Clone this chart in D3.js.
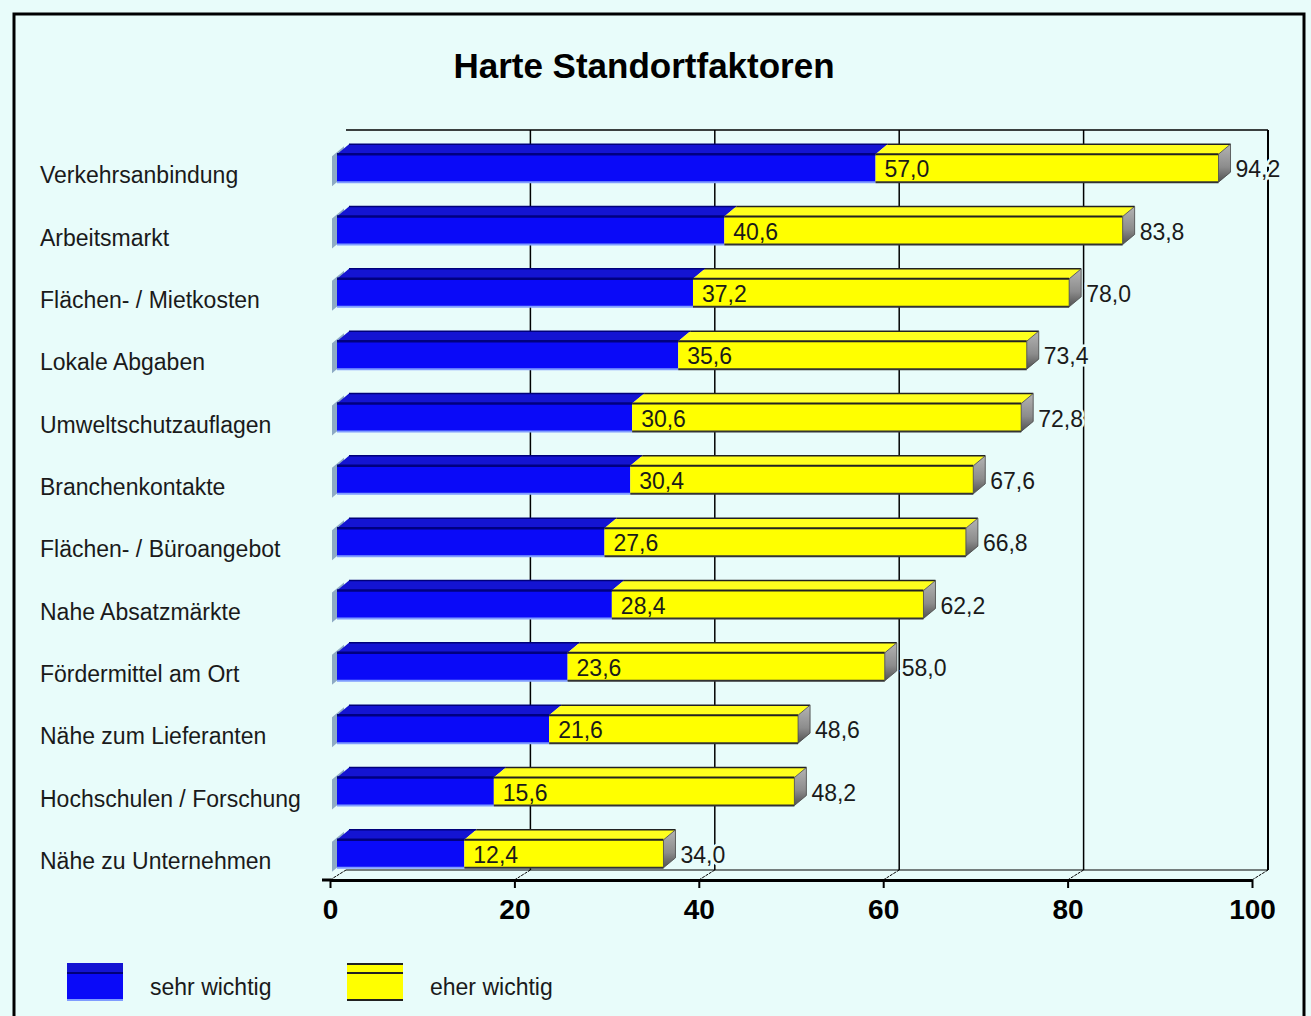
<!DOCTYPE html>
<html lang="de">
<head>
    <meta charset="UTF-8">
    <title>Harte Standortfaktoren - D3.js</title>
    <script src="https://d3js.org/d3.v7.min.js"></script>
    <style>
        body { margin: 0; background: #e8fcfa; }
        svg { display: block; font-family: "Liberation Sans", Arial, sans-serif; }
    </style>
</head>
<body>
<svg width="1311" height="1016"></svg>
<script>
    // Daten
    const categories = [
        "Verkehrsanbindung", "Arbeitsmarkt", "Flächen- / Mietkosten", "Lokale Abgaben",
        "Umweltschutzauflagen", "Branchenkontakte", "Flächen- / Büroangebot", "Nahe Absatzmärkte",
        "Fördermittel am Ort", "Nähe zum Lieferanten", "Hochschulen / Forschung", "Nähe zu Unternehmen"
    ];
    const sehrWichtig = [57.0, 40.6, 37.2, 35.6, 30.6, 30.4, 27.6, 28.4, 23.6, 21.6, 15.6, 12.4];
    const eherWichtig = [37.2, 43.2, 40.8, 37.8, 42.2, 37.2, 39.2, 33.8, 34.4, 27.0, 32.6, 21.6];
    const tickValues = [0, 20, 40, 60, 80, 100];
    const seriesNames = ["sehr wichtig", "eher wichtig"];

    const fmt = v => v.toFixed(1).replace(".", ",");
    const bg = "#e8fcfa";

    const svg = d3.select("svg");

    // Rahmen
    svg.append("rect")
        .attr("x", 14).attr("y", 14).attr("width", 1290).attr("height", 1020)
        .attr("fill", bg).attr("stroke", "#000").attr("stroke-width", 3);

    svg.append("text")
        .attr("x", 644).attr("y", 65)
        .attr("text-anchor", "middle").attr("dominant-baseline", "central")
        .style("font-size", "35px").style("font-weight", "bold")
        .text("Harte Standortfaktoren");

    // Skalen
    const axisY = 880;
    const backDx = 16, backDy = 10;
    const x = d3.scaleLinear().domain([0, 100]).range([330, 1252]);
    const barX = v => x(v) + 20;   // Balken liegen in der Tiefe etwas nach rechts versetzt
    const barStart = x(0) + 7;
    const y = d3.scaleBand().domain(categories).range([138, 886]);
    const yc = c => y(c) + y.bandwidth() / 2 - 1;

    // Rückwand und Gitter
    const back = svg.append("g").attr("stroke", "#000").attr("fill", "none");
    back.append("line")
        .attr("x1", x(0) + backDx).attr("x2", x(100) + backDx)
        .attr("y1", 130).attr("y2", 130).attr("stroke-width", 1.5);
    back.append("line")
        .attr("x1", x(0) + backDx).attr("x2", x(100) + backDx)
        .attr("y1", axisY - backDy).attr("y2", axisY - backDy).attr("stroke-width", 1);
    back.selectAll(".grid")
        .data(tickValues.slice(1))
        .enter().append("line")
        .attr("x1", d => x(d) + backDx).attr("x2", d => x(d) + backDx)
        .attr("y1", 130).attr("y2", axisY - backDy)
        .attr("stroke-width", d => d === 100 ? 2 : 1.5);
    back.selectAll(".diag")
        .data(tickValues)
        .enter().append("line")
        .attr("x1", d => x(d)).attr("x2", d => x(d) + backDx)
        .attr("y1", axisY).attr("y2", axisY - backDy)
        .attr("stroke-width", 1).attr("stroke-dasharray", "3,1");

    // Farbverlauf für Seitenflächen
    const defs = svg.append("defs");
    const grad = defs.append("linearGradient").attr("id", "side")
        .attr("x1", 0).attr("y1", 0).attr("x2", 0).attr("y2", 1);
    grad.append("stop").attr("offset", "0%").attr("stop-color", "#b4b4b4");
    grad.append("stop").attr("offset", "60%").attr("stop-color", "#8c8c8c");
    grad.append("stop").attr("offset", "100%").attr("stop-color", "#505050");

    // Balken
    const dx = 12, dy = 10, h = 28;
    const rows = categories.map((c, i) => ({
        c: c, sehr: sehrWichtig[i], total: sehrWichtig[i] + eherWichtig[i]
    }));

    const bars = svg.append("g");
    rows.forEach(r => {
        const ft = yc(r.c) - h / 2;
        const xa = barStart, xb = barX(r.sehr), xc = barX(r.total);
        const g = bars.append("g");

        // linke Stirnfläche
        g.append("polygon")
            .attr("points", [[xa - 5, ft + 2], [xa - 5 + dx, ft - dy + 2], [xa - 5 + dx, ft + h - dy + 4], [xa - 5, ft + h + 4]].join(" "))
            .attr("fill", "#8eaac4");

        // Oberseite
        g.append("polygon")
            .attr("points", [[xa, ft], [xa + dx, ft - dy], [xb + dx, ft - dy], [xb, ft]].join(" "))
            .attr("fill", "#1414d2");
        g.append("polygon")
            .attr("points", [[xb, ft], [xb + dx, ft - dy], [xc + dx, ft - dy], [xc, ft]].join(" "))
            .attr("fill", "#ffff1e");
        g.append("line").attr("x1", xa + dx).attr("x2", xb + dx).attr("y1", ft - dy).attr("y2", ft - dy)
            .attr("stroke", "#00007a").attr("stroke-width", 1.5);
        g.append("line").attr("x1", xb + dx).attr("x2", xc + dx).attr("y1", ft - dy).attr("y2", ft - dy)
            .attr("stroke", "#222").attr("stroke-width", 1.5);

        // Vorderseite
        g.append("rect").attr("x", xa).attr("y", ft).attr("width", xb - xa).attr("height", h)
            .attr("fill", "#0a0af8");
        g.append("rect").attr("x", xb).attr("y", ft).attr("width", xc - xb).attr("height", h)
            .attr("fill", "#ffff00");
        g.append("line").attr("x1", xa).attr("x2", xb).attr("y1", ft).attr("y2", ft)
            .attr("stroke", "#000080").attr("stroke-width", 2.5);
        g.append("line").attr("x1", xb).attr("x2", xc).attr("y1", ft).attr("y2", ft)
            .attr("stroke", "#222").attr("stroke-width", 2);
        g.append("line").attr("x1", xa).attr("x2", xb).attr("y1", ft + h).attr("y2", ft + h)
            .attr("stroke", "#7f9cff").attr("stroke-width", 2);
        g.append("line").attr("x1", xb).attr("x2", xc).attr("y1", ft + h).attr("y2", ft + h)
            .attr("stroke", "#333").attr("stroke-width", 2);

        // rechte Seitenfläche
        g.append("polygon")
            .attr("points", [[xc, ft], [xc + dx, ft - dy], [xc + dx, ft + h - dy], [xc, ft + h]].join(" "))
            .attr("fill", "url(#side)").attr("stroke", "#444").attr("stroke-width", 0.8);

        // Werte
        g.append("text")
            .attr("x", xb + 9).attr("y", yc(r.c) + 1)
            .attr("dominant-baseline", "central")
            .style("font-size", "23px").attr("fill", "#1a1a1a")
            .text(fmt(r.sehr));
        g.append("text")
            .attr("x", xc + dx + 5).attr("y", yc(r.c) + 1)
            .attr("dominant-baseline", "central")
            .style("font-size", "23px").attr("fill", "#1a1a1a")
            .attr("stroke", bg).attr("stroke-width", 5).attr("paint-order", "stroke")
            .text(fmt(r.total));
    });

    // Kategorien
    svg.selectAll(".cat")
        .data(categories)
        .enter().append("text")
        .attr("x", 40).attr("y", c => yc(c) + 7)
        .attr("dominant-baseline", "central")
        .style("font-size", "23px").attr("fill", "#1a1a1a")
        .text(c => c);

    // X-Achse
    const axis = svg.append("g")
        .attr("transform", `translate(0,${axisY})`)
        .call(d3.axisBottom(x).tickValues(tickValues).tickSize(8).tickSizeOuter(0).tickPadding(11));
    axis.select(".domain").attr("stroke", "#000").attr("stroke-width", 3);
    axis.selectAll(".tick line").attr("stroke", "#000").attr("stroke-width", 2);
    axis.selectAll(".tick text")
        .style("font-size", "28px").style("font-weight", "bold")
        .style("font-family", "'Liberation Sans', Arial, sans-serif")
        .attr("fill", "#000");
    svg.append("line").attr("x1", 322).attr("x2", 331).attr("y1", axisY).attr("y2", axisY)
        .attr("stroke", "#000").attr("stroke-width", 3);

    // Legende
    const legend = svg.append("g");
    const legX = [67, 347];
    seriesNames.forEach((name, i) => {
        const lx = legX[i], ly = 963;
        if (i === 0) {
            legend.append("rect").attr("x", lx).attr("y", ly).attr("width", 56).attr("height", 38).attr("fill", "#0a0af8");
            legend.append("rect").attr("x", lx).attr("y", ly).attr("width", 56).attr("height", 10).attr("fill", "#1414d2");
            legend.append("line").attr("x1", lx).attr("x2", lx + 56).attr("y1", ly + 10).attr("y2", ly + 10)
                .attr("stroke", "#00007a").attr("stroke-width", 2);
            legend.append("line").attr("x1", lx).attr("x2", lx + 56).attr("y1", ly + 37).attr("y2", ly + 37)
                .attr("stroke", "#7f9cff").attr("stroke-width", 2);
        } else {
            legend.append("rect").attr("x", lx).attr("y", ly).attr("width", 56).attr("height", 38).attr("fill", "#ffff00");
            [ly + 1, ly + 10, ly + 37].forEach(yy => {
                legend.append("line").attr("x1", lx).attr("x2", lx + 56).attr("y1", yy).attr("y2", yy)
                    .attr("stroke", "#222").attr("stroke-width", 2);
            });
        }
        legend.append("text")
            .attr("x", lx + 83).attr("y", 987)
            .attr("dominant-baseline", "central")
            .style("font-size", "23px").attr("fill", "#1a1a1a")
            .text(name);
    });
</script>
</body>
</html>
